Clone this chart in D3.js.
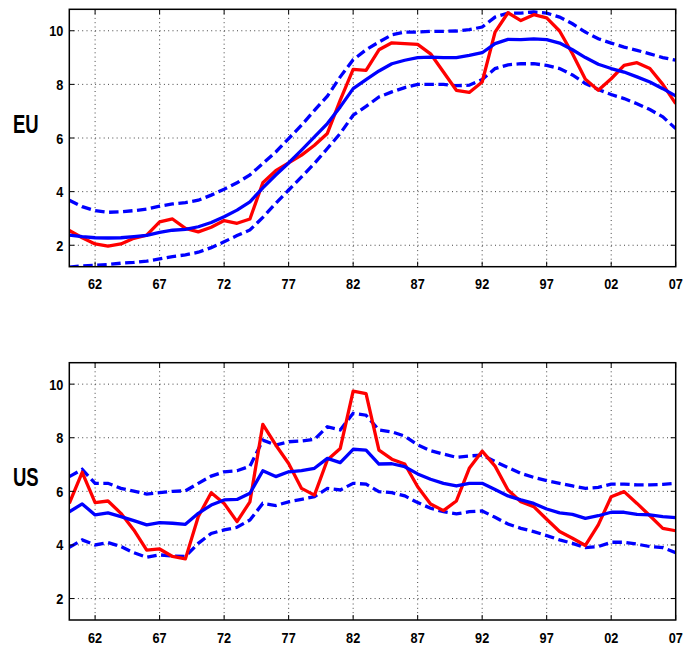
<!DOCTYPE html>
<html><head><meta charset="utf-8">
<script src="https://cdn.jsdelivr.net/npm/d3@7"></script>
<style>body{margin:0;background:#fff}svg{display:block}</style>
</head><body>
<script>
const years = d3.range(1960, 2008);
const xTicks = [1962, 1967, 1972, 1977, 1982, 1987, 1992, 1997, 2002, 2007];
const xTickLabels = ["62","67","72","77","82","87","92","97","02","07"];
const yTicks = [2, 4, 6, 8, 10];

const euActual = [2.55,2.28,2.05,1.97,2.05,2.26,2.38,2.87,2.98,2.63,2.5,2.67,2.92,2.82,2.98,4.33,4.78,5.07,5.36,5.73,6.17,7.41,8.56,8.52,
  9.29,9.55,9.52,9.49,9.14,8.46,7.78,7.7,8.09,9.95,10.67,10.38,10.6,10.48,9.99,9.14,8.19,7.78,8.21,8.71,8.81,8.59,8.0,7.28];
const euTrend = [2.38,2.32,2.28,2.27,2.28,2.32,2.37,2.48,2.56,2.59,2.69,2.85,3.06,3.31,3.62,4.14,4.62,5.07,5.55,6.04,6.54,7.16,7.84,8.18,
  8.5,8.77,8.9,9.0,9.02,9.0,9.0,9.08,9.18,9.52,9.68,9.67,9.7,9.67,9.54,9.29,9.0,8.75,8.59,8.46,8.28,8.09,7.84,7.57];
const euUpper = [3.68,3.44,3.29,3.23,3.25,3.29,3.35,3.46,3.54,3.59,3.68,3.87,4.09,4.33,4.62,5.05,5.48,5.98,6.48,7.03,7.56,8.28,8.92,9.29,
  9.58,9.85,9.95,9.95,9.98,9.98,9.99,10.04,10.14,10.51,10.66,10.66,10.7,10.66,10.51,10.26,9.95,9.7,9.54,9.39,9.27,9.14,9.0,8.9];
const euLower = [1.18,1.23,1.25,1.28,1.33,1.36,1.41,1.49,1.58,1.64,1.74,1.91,2.13,2.36,2.57,3.04,3.56,4.06,4.55,5.05,5.61,6.17,6.85,7.18,
  7.53,7.72,7.88,8.0,8.0,8.0,7.95,7.97,8.18,8.59,8.73,8.77,8.77,8.71,8.59,8.35,8.03,7.81,7.62,7.47,7.28,7.06,6.79,6.35];

const usActual = [5.55,6.71,5.58,5.64,5.18,4.56,3.81,3.85,3.57,3.48,5.06,5.95,5.55,4.87,5.61,8.5,7.73,7.04,6.11,5.86,7.17,7.6,9.74,9.65,
  7.54,7.2,7.02,6.17,5.53,5.28,5.64,6.86,7.5,6.94,6.05,5.61,5.43,4.96,4.5,4.25,3.98,4.75,5.8,5.99,5.55,5.09,4.62,4.53];
const usTrend = [5.24,5.53,5.12,5.2,5.06,4.91,4.75,4.83,4.81,4.77,5.18,5.49,5.68,5.7,5.93,6.77,6.55,6.73,6.77,6.86,7.23,7.07,7.57,7.54,
  7.02,7.03,6.92,6.65,6.45,6.3,6.2,6.3,6.3,6.07,5.83,5.68,5.55,5.34,5.2,5.14,4.99,5.09,5.22,5.22,5.14,5.12,5.06,5.02];
const usUpper = [6.55,6.82,6.3,6.3,6.11,6.01,5.9,5.95,6.0,6.02,6.3,6.57,6.73,6.77,6.94,7.91,7.73,7.85,7.88,7.94,8.41,8.29,8.91,8.84,
  8.29,8.22,8.06,7.73,7.52,7.39,7.27,7.32,7.35,7.11,6.89,6.67,6.52,6.4,6.3,6.2,6.11,6.15,6.27,6.27,6.24,6.24,6.26,6.3];
const usLower = [3.91,4.19,4.0,4.09,3.94,3.71,3.54,3.63,3.59,3.57,4.06,4.43,4.56,4.66,4.93,5.55,5.47,5.61,5.7,5.8,6.11,6.05,6.3,6.27,
  5.99,5.95,5.83,5.58,5.37,5.24,5.16,5.24,5.27,5.03,4.78,4.62,4.5,4.35,4.19,4.06,3.9,3.94,4.1,4.1,4.03,3.94,3.9,3.71];

const panels = [
  {label:"EU", top:9.3, bottom:266.7, actual:euActual, trend:euTrend, upper:euUpper, lower:euLower},
  {label:"US", top:362.7, bottom:620, actual:usActual, trend:usTrend, upper:usUpper, lower:usLower}
];

const W = 684, H = 648;
const left = 69.3, right = 675.7;
const svg = d3.select("body").append("svg").attr("width", W).attr("height", H);
const x = d3.scaleLinear().domain([1960, 2007]).range([left, right]);
const FONT = "'Liberation Sans', Arial, Helvetica, sans-serif";

panels.forEach((p, pi) => {
  const y = d3.scaleLinear().domain([1.2, 10.8]).range([p.bottom, p.top]);
  const g = svg.append("g");
  const clipId = "clip" + pi;
  svg.append("clipPath").attr("id", clipId).append("rect")
    .attr("x", left).attr("y", p.top).attr("width", right - left).attr("height", p.bottom - p.top);

  // grid
  g.selectAll(".gx").data(xTicks.filter(t => t < 2007)).join("line")
    .attr("x1", d => x(d)).attr("x2", d => x(d)).attr("y1", p.top).attr("y2", p.bottom)
    .attr("stroke", "#444").attr("stroke-width", 1).attr("stroke-dasharray", "1,3.3");
  g.selectAll(".gy").data(yTicks).join("line")
    .attr("x1", left).attr("x2", right).attr("y1", d => y(d)).attr("y2", d => y(d))
    .attr("stroke", "#444").attr("stroke-width", 1).attr("stroke-dasharray", "1,3.3");

  // lines
  const line = d3.line().x((d, i) => x(years[i])).y(d => y(d));
  const lg = g.append("g").attr("clip-path", `url(#${clipId})`);
  lg.append("path").attr("d", line(p.upper)).attr("fill", "none").attr("stroke", "#0000ff")
    .attr("stroke-width", 3.3).attr("stroke-dasharray", "9.5,4.5");
  lg.append("path").attr("d", line(p.lower)).attr("fill", "none").attr("stroke", "#0000ff")
    .attr("stroke-width", 3.3).attr("stroke-dasharray", "9.5,4.5");
  lg.append("path").attr("d", line(p.actual)).attr("fill", "none").attr("stroke", "#ff0000")
    .attr("stroke-width", 3.3).attr("stroke-linejoin", "round");
  lg.append("path").attr("d", line(p.trend)).attr("fill", "none").attr("stroke", "#0000ff")
    .attr("stroke-width", 3.3).attr("stroke-linejoin", "round");

  // inward ticks (all four sides)
  const tl = 5;
  xTicks.forEach(t => {
    g.append("line").attr("x1", x(t)).attr("x2", x(t)).attr("y1", p.bottom).attr("y2", p.bottom - tl).attr("stroke", "#000");
    g.append("line").attr("x1", x(t)).attr("x2", x(t)).attr("y1", p.top).attr("y2", p.top + tl).attr("stroke", "#000");
  });
  yTicks.forEach(t => {
    g.append("line").attr("x1", left).attr("x2", left + tl).attr("y1", y(t)).attr("y2", y(t)).attr("stroke", "#000");
    g.append("line").attr("x1", right).attr("x2", right - tl).attr("y1", y(t)).attr("y2", y(t)).attr("stroke", "#000");
  });

  // frame
  g.append("rect").attr("x", left).attr("y", p.top).attr("width", right - left).attr("height", p.bottom - p.top)
    .attr("fill", "none").attr("stroke", "#000").attr("stroke-width", 1.5);

  // x tick labels
  xTicks.forEach((t, i) => {
    g.append("text").attr("transform", `translate(${x(t)},${p.bottom + 22.5}) scale(0.82,1)`)
      .attr("text-anchor", "middle").attr("font-family", FONT).attr("font-weight", "bold")
      .attr("font-size", 15.5).text(xTickLabels[i]);
  });
  // y tick labels
  yTicks.forEach(t => {
    g.append("text").attr("transform", `translate(${left - 6},${y(t) + 5.5}) scale(0.82,1)`)
      .attr("text-anchor", "end").attr("font-family", FONT).attr("font-weight", "bold")
      .attr("font-size", 15.5).text(t);
  });
  // panel label
  const ly = pi === 0 ? 133 : 485.5;
  g.append("text").attr("transform", `translate(13,${ly}) scale(0.74,1)`)
    .attr("font-family", FONT).attr("font-weight", "bold").attr("font-size", 25).text(p.label);
});
</script>
</body></html>
